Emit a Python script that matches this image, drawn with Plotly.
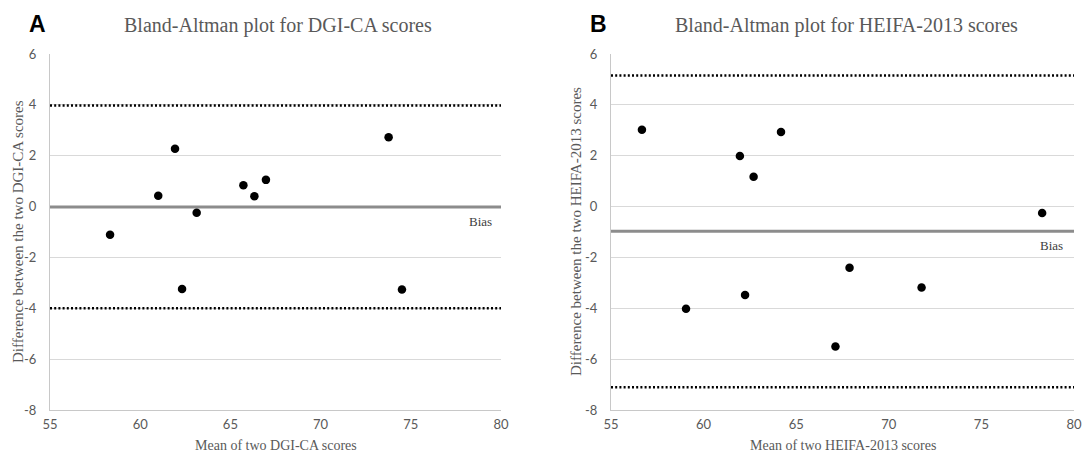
import numpy as np
import plotly.graph_objects as go

# Panel A: DGI-CA
mean_a = [58.33, 61.0, 61.93, 62.32, 63.13, 65.72, 66.33, 66.97, 73.77, 74.51]
diff_a = [-1.11, 0.43, 2.27, -3.24, -0.24, 0.84, 0.41, 1.05, 2.73, -3.26]

# Panel B: HEIFA-2013
mean_b = [56.67, 59.05, 61.96, 62.24, 62.70, 64.18, 67.12, 67.88, 71.77, 78.28]
diff_b = [3.02, -4.02, 1.99, -3.48, 1.17, 2.93, -5.50, -2.41, -3.18, -0.25]

x_range = [55, 80]
y_range = [-8, 6]
x_ticks = [55, 60, 65, 70, 75, 80]
y_ticks = [-8, -6, -4, -2, 0, 2, 4, 6]
y_ticktext = [str(v) for v in y_ticks]

titles = ["Bland-Altman plot for DGI-CA scores", "Bland-Altman plot for HEIFA-2013 scores"]
x_titles = ["Mean of two DGI-CA scores", "Mean of two HEIFA-2013 scores"]
y_titles = ["Difference between the two DGI-CA scores", "Difference between the two HEIFA-2013 scores"]
letters = ["A", "B"]

W, H = 1082, 453
px_x = [[50, 501], [611, 1074]]
doms = [[a / W, b / W] for a, b in px_x]
ydom = [43 / H, 1 - 54 / H]

fig = go.Figure()
serif = "Liberation Serif, Times New Roman, serif"
sans = "Lato, Open Sans, sans-serif"
gray_txt = "#595959"

for i, (xs, ys) in enumerate([(mean_a, diff_a), (mean_b, diff_b)]):
    xa = "x" if i == 0 else "x2"
    ya = "y" if i == 0 else "y2"
    d = np.array(ys)
    bias = d.mean()
    sd = d.std(ddof=1)
    up, lo = bias + 1.96 * sd, bias - 1.96 * sd
    fig.add_trace(go.Scatter(x=x_range, y=[bias, bias], mode="lines",
                             line=dict(color="#8c8c8c", width=3),
                             xaxis=xa, yaxis=ya, showlegend=False, hoverinfo="skip"))
    for lv in (up, lo):
        fig.add_trace(go.Scatter(x=x_range, y=[lv, lv], mode="lines",
                                 line=dict(color="black", width=2.5, dash="2px,2.2px"),
                                 xaxis=xa, yaxis=ya, showlegend=False, hoverinfo="skip"))
    fig.add_trace(go.Scatter(x=xs, y=ys, mode="markers",
                             marker=dict(color="black", size=8.5),
                             xaxis=xa, yaxis=ya, showlegend=False))
    fig.add_annotation(x=79.6 if i == 0 else 79.5, y=bias, xref=xa, yref=ya,
                       text="Bias", showarrow=False, xanchor="right", yanchor="top",
                       yshift=-5, font=dict(family=serif, size=13, color="#404040"))

    axis_common = dict(gridcolor="#d9d9d9", gridwidth=1, zeroline=False,
                       showline=True, linecolor="#c8c8c8", linewidth=1, ticks="",
                       automargin=False,
                       tickfont=dict(family=sans, size=13, color=gray_txt))
    xkey = "xaxis" if i == 0 else "xaxis2"
    ykey = "yaxis" if i == 0 else "yaxis2"
    fig.update_layout(**{
        xkey: dict(axis_common, domain=doms[i], range=x_range, tickvals=x_ticks,
                   anchor=ya, showgrid=False, ticklabelstandoff=2),
        ykey: dict(axis_common, domain=ydom, range=y_range, tickvals=y_ticks,
                   ticktext=y_ticktext, anchor=xa, showgrid=True, ticklabelstandoff=10),
    })
    # titles
    fig.add_annotation(x=(278 if i == 0 else 846) / W, y=1 - 26 / H, xref="paper", yref="paper",
                       text=titles[i], showarrow=False, xanchor="center", yanchor="middle",
                       font=dict(family=serif, size=20, color=gray_txt))
    fig.add_annotation(x=(37 if i == 0 else 598) / W, y=1 - 24 / H, xref="paper", yref="paper",
                       text="<b>%s</b>" % letters[i], showarrow=False, xanchor="center", yanchor="middle",
                       font=dict(family="Liberation Sans, Arial, sans-serif", size=23, color="black"))
    # axis titles
    fig.add_annotation(x=(px_x[i][0] + px_x[i][1]) / 2 / W, y=1 - 445 / H, xref="paper", yref="paper",
                       text=x_titles[i], showarrow=False, xanchor="center", yanchor="middle",
                       font=dict(family=serif, size=14, color=gray_txt))
    fig.add_annotation(x=(18 if i == 0 else 576) / W, y=1 - 232 / H, xref="paper", yref="paper",
                       text=y_titles[i], showarrow=False, xanchor="center", yanchor="middle",
                       textangle=-90, font=dict(family=serif, size=15, color=gray_txt))

fig.update_layout(width=W, height=H, margin=dict(l=0, r=0, t=0, b=0),
                  paper_bgcolor="white", plot_bgcolor="white")

fig.write_html("out.html", config={"displayModeBar": False},
               post_script="document.body.style.margin='0';document.body.style.overflow='hidden';")
